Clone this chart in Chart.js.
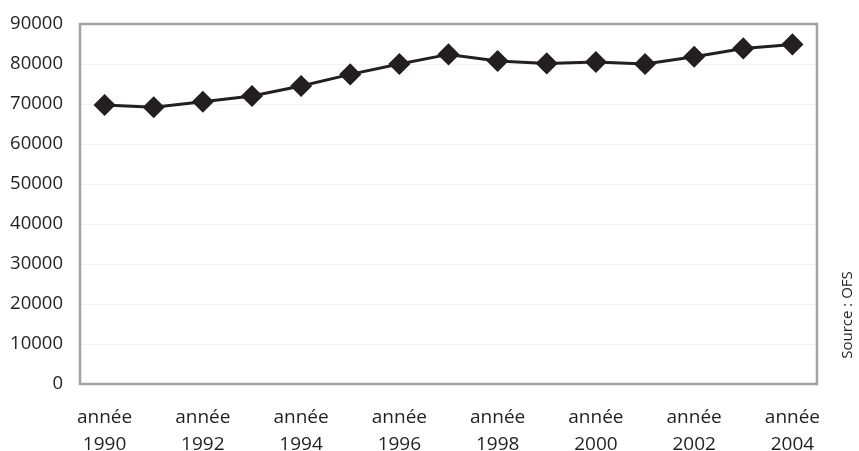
<!DOCTYPE html>
<html>
<head>
<meta charset="utf-8">
<script src="https://cdn.jsdelivr.net/npm/chart.js@4/dist/chart.umd.min.js"></script>
<style>
  html, body { margin: 0; padding: 0; background: #ffffff; }
  #wrap { width: 859px; height: 451px; }
</style>
</head>
<body>
<div id="wrap"><canvas id="c" width="859" height="451"></canvas></div>
<script>
// Years shown on the category axis
const years = [1990, 1991, 1992, 1993, 1994, 1995, 1996, 1997, 1998, 1999, 2000, 2001, 2002, 2003, 2004];
// Yearly totals
const values = [69750, 69200, 70550, 72000, 74500, 77400, 80000, 82400, 80750, 80150, 80500, 80000, 81800, 83900, 84900];
// Value axis ticks
const yTicks = [0, 10000, 20000, 30000, 40000, 50000, 60000, 70000, 80000, 90000];
const sourceNote = 'Source : OFS';

const ink = '#231f20';
const frame = '#a3a3a3';
const font = "'Open Sans', sans-serif";

// Grey frame around the plot area and the rotated source note
const framePlugin = {
  id: 'frameAndNote',
  beforeDatasetsDraw(chart) {
    const { ctx, chartArea: a } = chart;
    ctx.save();
    ctx.strokeStyle = frame;
    ctx.lineWidth = 2.5;
    ctx.strokeRect(a.left, a.top, a.right - a.left, a.bottom - a.top);
    ctx.restore();
  },
  afterDraw(chart) {
    const { ctx, chartArea: a } = chart;
    ctx.save();
    ctx.translate(a.right + 31, 315);
    ctx.rotate(-Math.PI / 2);
    ctx.fillStyle = ink;
    ctx.font = "15px " + font;
    ctx.textAlign = 'center';
    ctx.textBaseline = 'middle';
    ctx.fillText(sourceNote, 0, 0);
    ctx.restore();
  }
};

new Chart(document.getElementById('c'), {
  type: 'line',
  data: {
    labels: years.map(y => ['année', String(y)]),
    datasets: [{
      data: values,
      borderColor: ink,
      borderWidth: 3,
      pointStyle: 'rectRot',
      pointRadius: 10,
      pointBorderWidth: 1.5,
      pointBackgroundColor: ink,
      pointBorderColor: ink,
      tension: 0
    }]
  },
  options: {
    responsive: false,
    animation: false,
    devicePixelRatio: 1,
    layout: { padding: { top: 24, right: 42, bottom: 0, left: 0 } },
    plugins: { legend: { display: false }, tooltip: { enabled: false } },
    scales: {
      x: {
        offset: true,
        grid: { display: false },
        border: { display: false },
        afterFit(s) { s.height = 67; s.paddingLeft = 0; s.paddingRight = 0; },
        ticks: {
          autoSkip: false,
          maxRotation: 0,
          padding: 12,
          color: ink,
          font: { family: font, size: 19, lineHeight: 1.42 },
          callback(v, i) { return i % 2 === 0 ? this.getLabelForValue(v) : ''; }
        }
      },
      y: {
        min: 0,
        max: 90000,
        afterBuildTicks(s) { s.ticks = yTicks.map(v => ({ value: v })); },
        afterFit(s) { s.width = 80; s.paddingTop = 0; s.paddingBottom = 0; },
        grid: { color: '#f2f2f2', lineWidth: 1, drawTicks: false },
        border: { display: false },
        ticks: {
          padding: 17,
          color: ink,
          font: { family: font, size: 18.5 },
          callback(v) { return String(v); }
        }
      }
    }
  },
  plugins: [framePlugin]
});
</script>
</body>
</html>
